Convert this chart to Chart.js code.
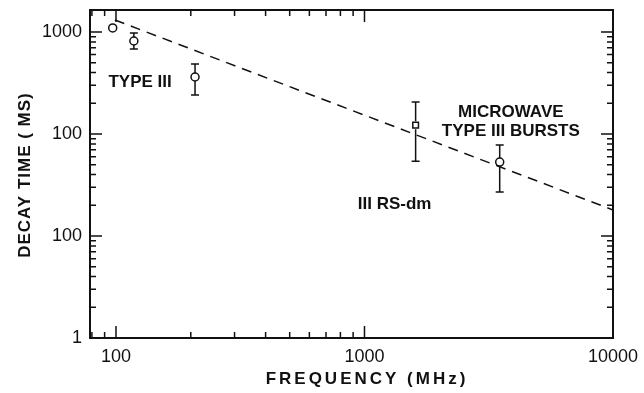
<!DOCTYPE html>
<html>
<head>
<meta charset="utf-8">
<script src="https://cdn.jsdelivr.net/npm/chart.js@4.4.0/dist/chart.umd.min.js"></script>
<style>
body { margin: 0; background: #fff; }
#wrap { width: 644px; height: 393px; }
</style>
</head>
<body>
<div id="wrap"><canvas id="chart"></canvas></div>
<script>
// measured points (MHz, ms)
const freq = [97, 118, 208, 1606, 3500];
const decay = [1095, 816, 362, 122, 53];
const errLow = [null, 681, 241, 54, 27];
const errHigh = [null, 978, 486, 206, 78];
const pointStyles = ['circle', 'circle', 'circle', 'rect', 'circle'];

// dashed fit line
const fitX = [99, 10000];
const fitY = [1311, 18];

// axis ticks
const majorX = [100, 1000, 10000];
const xTickLabels = ['100', '1000', '10000'];
const majorY = [1, 10, 100, 1000];
const yTickLabels = ['1', '100', '100', '1000'];

// labels inside the plot, placed in data coordinates
const notes = [
    { text: 'TYPE III', x: 125, y: 324 },
    { text: 'MICROWAVE', x: 3880, y: 164 },
    { text: 'TYPE III BURSTS', x: 3880, y: 107 },
    { text: 'III RS-dm', x: 1322, y: 20.6 }
];

const ink = '#111';

function minorTicks(majors, maxVal) {
    const out = [];
    [10, 100, 1000].forEach(d => {
        for (let k = 2; k <= 9; k++) out.push(k * d / 10);
    });
    return out.filter(v => !majors.includes(v) && v < maxVal);
}
const minorX = [80, 90].concat(minorTicks(majorX, 10000).filter(v => v > 100));
const minorY = minorTicks(majorY, 1643);

const framePlugin = {
    id: 'framePlugin',
    afterDraw(chart) {
        const ctx = chart.ctx, a = chart.chartArea;
        const xs = chart.scales.x, ys = chart.scales.y;
        ctx.save();
        ctx.strokeStyle = ink;
        ctx.lineWidth = 2;
        ctx.strokeRect(a.left, a.top, a.right - a.left, a.bottom - a.top);
        ctx.lineWidth = 1.5;
        ctx.beginPath();
        minorX.concat(majorX).forEach(v => {
            const len = majorX.includes(v) ? 12 : 6;
            const px = xs.getPixelForValue(v);
            if (px < a.left + 1 || px > a.right - 1) return;
            ctx.moveTo(px, a.bottom); ctx.lineTo(px, a.bottom - len);
            ctx.moveTo(px, a.top); ctx.lineTo(px, a.top + len);
        });
        minorY.concat(majorY).forEach(v => {
            const len = majorY.includes(v) ? 12 : 6;
            const py = ys.getPixelForValue(v);
            if (py > a.bottom - 1 || py < a.top + 1) return;
            ctx.moveTo(a.left, py); ctx.lineTo(a.left + len, py);
            ctx.moveTo(a.right, py); ctx.lineTo(a.right - len, py);
        });
        ctx.stroke();

        // axis titles
        ctx.fillStyle = ink;
        ctx.font = 'bold 17px "Liberation Sans", Arial, sans-serif';
        ctx.textAlign = 'center';
        ctx.textBaseline = 'middle';
        ctx.letterSpacing = '3px';
        ctx.fillText('FREQUENCY (MHz)', 367, 379);
        ctx.letterSpacing = '1px';
        ctx.translate(25, 175);
        ctx.rotate(-Math.PI / 2);
        ctx.fillText('DECAY TIME ( MS)', 0, 0);
        ctx.restore();
    },
    afterDatasetsDraw(chart) {
        const ctx = chart.ctx;
        const xs = chart.scales.x, ys = chart.scales.y;
        ctx.save();
        ctx.strokeStyle = ink;
        ctx.lineWidth = 1.5;
        ctx.beginPath();
        freq.forEach((f, i) => {
            if (errLow[i] == null) return;
            const px = xs.getPixelForValue(f);
            const y1 = ys.getPixelForValue(errLow[i]);
            const y2 = ys.getPixelForValue(errHigh[i]);
            const yc = ys.getPixelForValue(decay[i]);
            ctx.moveTo(px, y2); ctx.lineTo(px, yc - 4);
            ctx.moveTo(px, yc + 4); ctx.lineTo(px, y1);
            ctx.moveTo(px - 4, y1); ctx.lineTo(px + 4, y1);
            ctx.moveTo(px - 4, y2); ctx.lineTo(px + 4, y2);
        });
        ctx.stroke();

        ctx.fillStyle = ink;
        ctx.font = 'bold 17px "Liberation Sans", Arial, sans-serif';
        ctx.textAlign = 'center';
        ctx.textBaseline = 'middle';
        notes.forEach(n => {
            ctx.fillText(n.text, xs.getPixelForValue(n.x), ys.getPixelForValue(n.y));
        });
        ctx.restore();
    }
};

new Chart(document.getElementById('chart'), {
    type: 'scatter',
    data: {
        datasets: [{
            label: 'bursts',
            data: freq.map((f, i) => ({ x: f, y: decay[i] })),
            pointStyle: pointStyles,
            pointRadius: 4,
            pointBorderWidth: 1.5,
            borderColor: ink,
            backgroundColor: 'rgba(0,0,0,0)',
            showLine: false
        }, {
            label: 'fit',
            data: fitX.map((f, i) => ({ x: f, y: fitY[i] })),
            showLine: true,
            borderColor: ink,
            borderWidth: 1.5,
            borderDash: [10, 7],
            pointRadius: 0
        }]
    },
    options: {
        responsive: true,
        maintainAspectRatio: false,
        animation: false,
        layout: { padding: { top: 10, right: 31, left: 0, bottom: 0 } },
        plugins: { legend: { display: false }, tooltip: { enabled: false } },
        scales: {
            x: {
                type: 'logarithmic',
                min: 78.6,
                max: 10000,
                grid: { display: false, drawTicks: false },
                border: { display: false },
                afterBuildTicks: s => { s.ticks = majorX.map(v => ({ value: v })); },
                afterFit: s => {
                    s.height = 55;
                    s.paddingLeft = 0;
                    s.paddingRight = 0;
                },
                ticks: {
                    color: ink,
                    padding: 8,
                    maxRotation: 0,
                    autoSkip: false,
                    font: { family: '"Liberation Sans", Arial, sans-serif', size: 18 },
                    callback: v => xTickLabels[majorX.indexOf(v)]
                }
            },
            y: {
                type: 'logarithmic',
                min: 1,
                max: 1643,
                grid: { display: false, drawTicks: false },
                border: { display: false },
                afterBuildTicks: s => { s.ticks = majorY.map(v => ({ value: v })); },
                afterFit: s => {
                    s.width = 90;
                    s.paddingTop = 0;
                    s.paddingBottom = 0;
                },
                ticks: {
                    color: ink,
                    padding: 8,
                    autoSkip: false,
                    font: { family: '"Liberation Sans", Arial, sans-serif', size: 18 },
                    callback: v => yTickLabels[majorY.indexOf(v)]
                }
            }
        }
    },
    plugins: [framePlugin]
});
</script>
</body>
</html>
